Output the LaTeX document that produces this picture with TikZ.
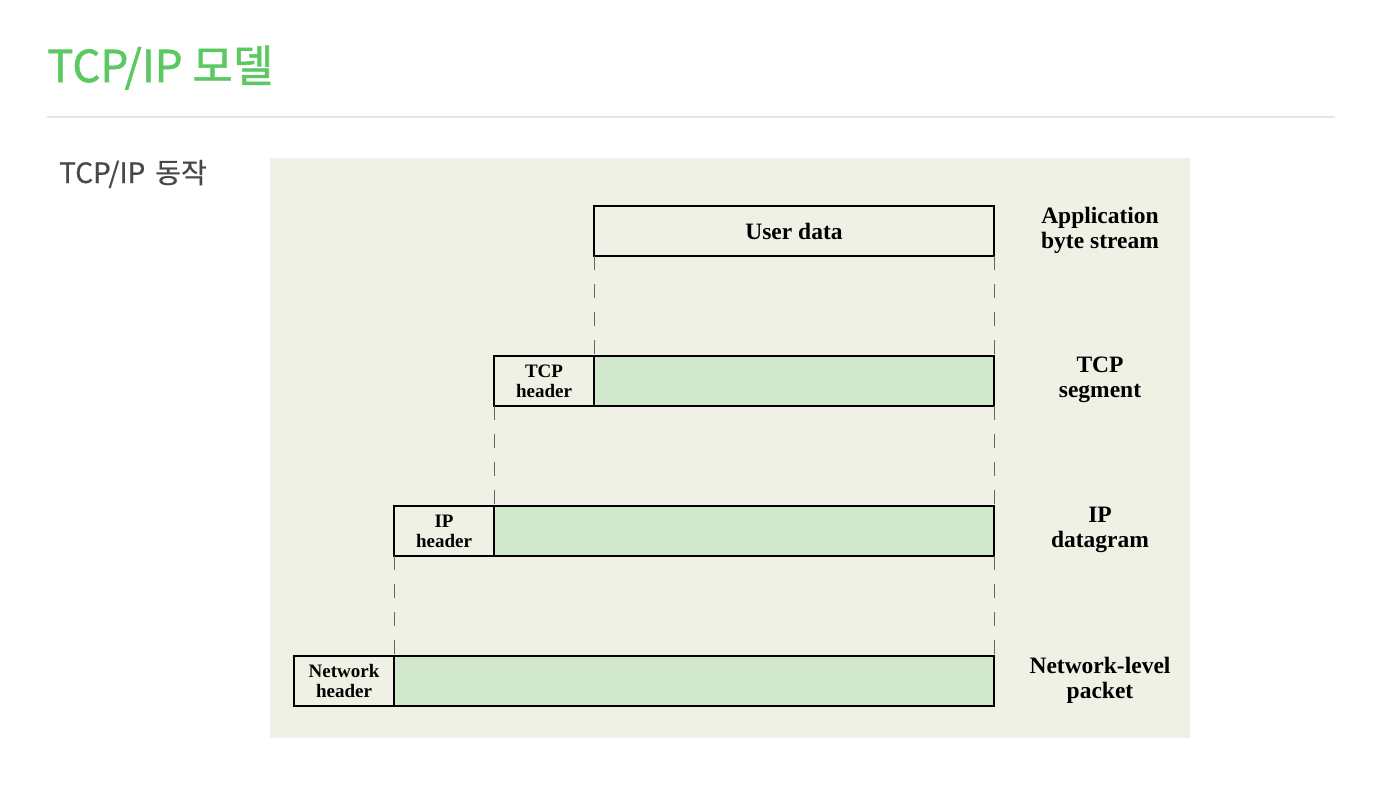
\documentclass[tikz,border=0pt]{standalone}
\usepackage{fontspec}
\setmainfont{Liberation Serif}
\newfontfamily\hangul[FakeBold=1.2]{Noto Sans CJK KR}
\newfontfamily\hangulsub[FakeBold=0.6]{Noto Sans CJK KR}
\usepackage{tikz}
\usetikzlibrary{positioning}

\definecolor{titlegreen}{RGB}{92,200,98}
\definecolor{subgray}{RGB}{72,72,72}
\definecolor{rulegray}{RGB}{230,230,230}
\definecolor{panelbg}{RGB}{240,241,229}
\definecolor{segfill}{RGB}{209,232,205}

\begin{document}
\begin{tikzpicture} [
    x=1pt, y=-1pt,
    b/.style = {rectangle, draw, line width=2pt, outer sep=0pt, minimum height=50pt,
    align=center, font=\fontsize{23.5}{25}\selectfont\bfseries},
    hd/.style = {b, minimum width=100pt, fill=panelbg, font=\fontsize{19}{20}\selectfont\bfseries},
    seg/.style = {b, fill=segfill},
    lab/.style = {align=center, font=\fontsize{23.5}{25}\selectfont\bfseries},
    dash line/.style = {draw, gray!80!black, line width=1pt, dash pattern=on 14pt off 14pt}
    ]
    \useasboundingbox (0,0) rectangle (1392,804);
    \node[anchor=base west, inner sep=0pt, text=titlegreen, font=\hangul\fontsize{44}{50}\selectfont] (title) at (47,82) {TCP/IP 모델};
    \draw[rulegray, line width=1.5pt] (47,117) -- (1335,117);
    \node[anchor=base west, inner sep=0pt, text=subgray, font=\hangulsub\fontsize{28}{32}\selectfont] (sub) at (59,183) {TCP/IP\hspace{10pt}동작};
    \fill[panelbg] (270,158) rectangle (1190,738);

    % layers
    \node[b, minimum width=400pt] (user) at (794,231) {User data};
    \node[seg, minimum width=400pt] (tcp) at (794,381) {};
    \node[hd, left=0pt of tcp] (tcphd) {TCP\\header};
    \node[seg, minimum width=500pt] (ip) at (744,531) {};
    \node[hd, left=0pt of ip] (iphd) {IP\\header};
    \node[seg, minimum width=600pt] (net) at (694,681) {};
    \node[hd, left=0pt of net] (nethd) {Network\\header};

    \node[lab] (applab) at (1100,230) {Application\\byte stream};
    \node[lab] (tcplab) at (1100,380) {TCP\\segment};
    \node[lab] (iplab) at (1100,530) {IP\\datagram};
    \node[lab] (netlab) at (1100,680) {Network-level\\packet};

    \draw[dash line] (user.south west) -- (tcp.north west);
    \draw[dash line] (user.south east) -- (tcp.north east);
    \draw[dash line] (tcphd.south west) -- (ip.north west);
    \draw[dash line] (tcp.south east) -- (ip.north east);
    \draw[dash line] (iphd.south west) -- (net.north west);
    \draw[dash line] (ip.south east) -- (net.north east);
\end{tikzpicture}
\end{document}
